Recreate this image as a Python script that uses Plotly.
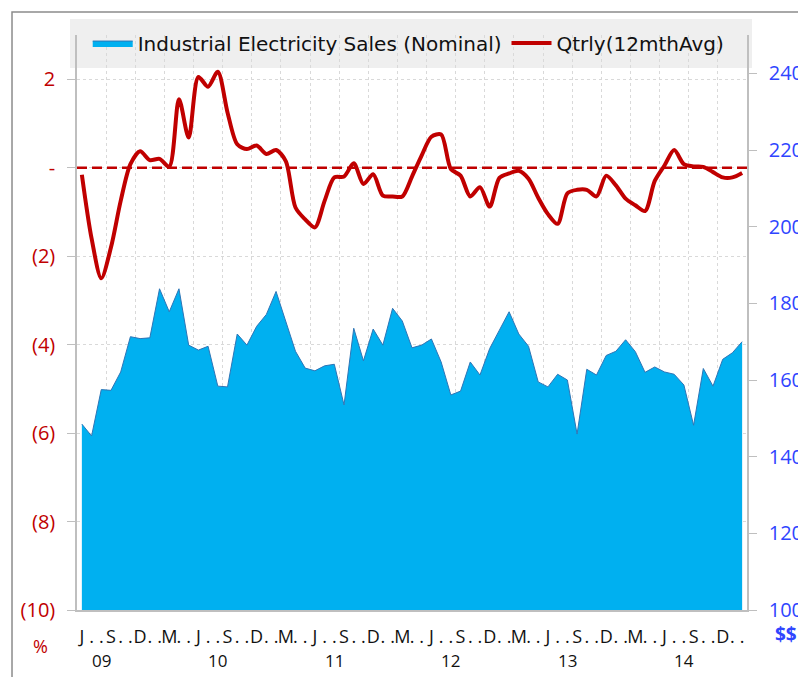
import plotly.graph_objects as go
import pandas as pd
import numpy as np

# ---- data ----
months = pd.date_range("2009-06-01", periods=69, freq="MS")

sales = [148.5, 145.4, 157.5, 157.3, 162.1, 171.3, 170.8, 171.0, 183.8, 177.8,
         183.8, 169.1, 167.8, 168.8, 158.4, 158.2, 172.0, 169.1, 174.0, 177.1,
         183.1, 175.6, 167.5, 163.1, 162.4, 163.7, 164.1, 153.5, 173.5, 165.0,
         173.3, 169.1, 178.7, 175.4, 168.4, 169.1, 170.7, 164.7, 156.1, 157.1,
         164.7, 161.3, 168.2, 173.0, 177.8, 172.0, 168.8, 159.5, 158.2, 161.5,
         160.0, 145.9, 162.8, 161.3, 166.4, 167.5, 170.5, 167.4, 162.0, 163.4,
         162.1, 161.5, 158.7, 148.2, 163.0, 158.4, 165.4, 167.1, 170.0]

qtrly = [-0.16, -1.6, -2.5, -1.8, -0.75, 0.08, 0.37, 0.17, 0.2, 0.02,
         1.55, 0.68, 2.05, 1.83, 2.17, 1.25, 0.53, 0.42, 0.5, 0.31,
         0.4, 0.15, -0.9, -1.17, -1.35, -0.75, -0.22, -0.2, 0.1, -0.37,
         -0.15, -0.63, -0.65, -0.65, -0.2, 0.28, 0.7, 0.75, -0.03, -0.18,
         -0.65, -0.44, -0.88, -0.23, -0.13, -0.07, -0.25, -0.68, -1.05, -1.27,
         -0.58, -0.5, -0.5, -0.65, -0.18, -0.4, -0.7, -0.85, -0.98, -0.3,
         0.05, 0.4, 0.08, 0.03, 0.02, -0.1, -0.22, -0.22, -0.12]

left_ticks = [-10, -8, -6, -4, -2, 0, 2]
left_ticktext = ["(10)", "(8)", "(6)", "(4)", "(2)", "-", "2"]
right_ticks = [100, 120, 140, 160, 180, 200, 220, 240]

quarter_initial = {6: "J", 9: "S", 12: "D", 3: "M"}
month_labels = [quarter_initial.get(m.month, ".") for m in months]
year_pos = [i for i, m in enumerate(months) if m.month == 8]
year_labels = [months[i].strftime("%y") for i in year_pos]

idx = list(range(len(months)))

RED = "#c00000"
BLUE_TXT = "#2f45ff"
GRAY = "#bfbfbf"
FONT = "Open Sans"
LFONT = "DejaVu Sans"

fig = go.Figure()
fig.add_trace(go.Scatter(
    x=idx, y=sales, name="Industrial Electricity Sales (Nominal)",
    mode="lines", fill="tozeroy", fillcolor="#00b0f0",
    line=dict(color="#2e75b6", width=1), yaxis="y"))
fig.add_trace(go.Scatter(
    x=idx, y=qtrly, name="Qtrly(12mthAvg)", mode="lines",
    line=dict(color=RED, width=4, shape="spline", smoothing=0.8),
    yaxis="y2"))

annotations = []
for p, t in zip(year_pos, year_labels):
    annotations.append(dict(x=p, y=-0.087, xref="x", yref="paper", text=t,
                            showarrow=False, xanchor="center", yanchor="middle",
                            font=dict(size=17, color="#111111", family=FONT)))
annotations.append(dict(x=-0.055, y=-0.063, xref="paper", yref="paper", text="%",
                        showarrow=False, xanchor="center", yanchor="middle",
                        font=dict(size=18, color=RED, family=FONT)))
annotations.append(dict(x=1.058, y=-0.042, xref="paper", yref="paper", text="<b>$$</b>",
                        showarrow=False, xanchor="center", yanchor="middle",
                        font=dict(size=19, color=BLUE_TXT, family=FONT)))

shapes = [
    # outer frame
    dict(type="rect", xref="paper", yref="paper", x0=-0.097, x1=1.3, y0=-0.3, y1=1.04,
         line=dict(color="#8c8c8c", width=1.5), fillcolor="rgba(0,0,0,0)", layer="below"),
    # legend band
    dict(type="rect", xref="paper", yref="paper", x0=-0.0104, x1=1.0075, y0=0.9426, y1=1.0278,
         line=dict(width=0), fillcolor="#efefef", layer="below"),
    # zero reference
    dict(type="line", xref="paper", yref="y2", x0=0, x1=1, y0=0, y1=0,
         line=dict(color=RED, width=2.5, dash="10px,5px")),
]

fig.update_layout(
    width=806, height=677,
    margin=dict(l=69, r=67, t=27, b=75, autoexpand=False),
    paper_bgcolor="white", plot_bgcolor="rgba(0,0,0,0)",
    font=dict(family=FONT, size=18, color="#111111"),
    showlegend=True,
    legend=dict(orientation="h", x=0.016, y=0.986, xanchor="left", yanchor="middle",
                bgcolor="rgba(0,0,0,0)", font=dict(size=20, family=LFONT, color="#111111"),
                itemwidth=40, traceorder="normal"),
    xaxis=dict(range=[-0.5, 68.5], tickmode="array", tickvals=idx, ticktext=month_labels,
               ticks="", showgrid=False, zeroline=False, showline=True, linecolor=GRAY,
               linewidth=1.5, tickangle=0, ticklabelstandoff=10, automargin=False,
               tickfont=dict(size=18, color="#111111", family=FONT),
               minor=dict(tickmode="array", tickvals=list(np.arange(2.5, 68, 3)),
                          showgrid=True, gridcolor="#d9d9d9", griddash="dot",
                          gridwidth=1, ticks="")),
    yaxis=dict(side="right", range=[100, 250], tickmode="array", tickvals=right_ticks,
               showgrid=False, zeroline=False, showline=True, linecolor=GRAY, linewidth=1.5,
               ticks="outside", ticklen=8, tickcolor=GRAY, ticklabelstandoff=8,
               automargin=False,
               tickfont=dict(size=20, color=BLUE_TXT, family=FONT)),
    yaxis2=dict(side="left", overlaying="y", range=[-10, 3], tickmode="array",
                tickvals=left_ticks, ticktext=left_ticktext,
                showgrid=True, gridcolor="#d9d9d9", griddash="dot", gridwidth=1,
                zeroline=False, showline=True, linecolor=GRAY, linewidth=1.5,
                ticks="outside", ticklen=8, tickcolor=GRAY, ticklabelstandoff=8,
                automargin=False,
                tickfont=dict(size=20, color=RED, family=FONT)),
    annotations=annotations,
    shapes=shapes,
)

fig.write_html("out.html")
